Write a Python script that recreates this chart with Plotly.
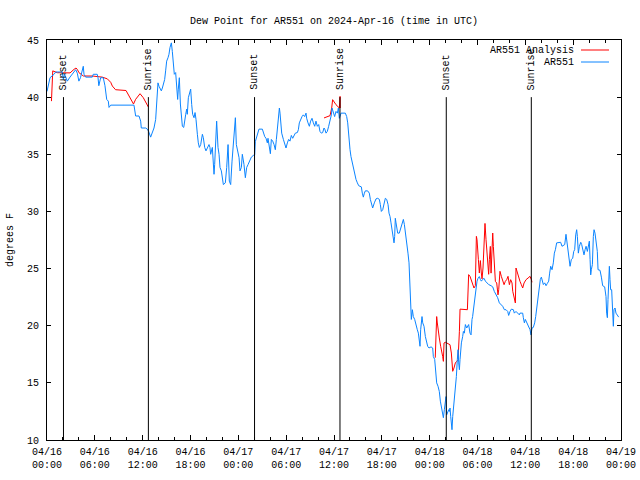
import pandas as pd
import plotly.graph_objects as go

BASE = pd.Timestamp("2024-04-16 00:00")

# AR551 observations: hours since 2024-04-16 00:00 UTC, dew point (F)
BLUE_H = [0.0, 0.38, 0.88, 1.09, 1.92, 2.05, 2.2, 2.55, 2.88, 3.18, 3.6, 3.8, 4.0, 4.2, 4.4, 4.55, 4.64, 4.85, 5.68, 5.8,
          6.3, 6.4, 6.5, 6.73, 7.06, 7.27, 7.49, 7.69, 7.78, 7.99, 10.91, 11.0, 11.12, 11.54, 11.75, 11.83, 12.38, 12.58,
          12.75, 13.0, 13.21, 13.42, 13.63, 13.76, 13.84, 13.92, 14.05, 14.17, 14.34, 14.47, 14.59, 14.76, 14.88, 15.01,
          15.18, 15.3, 15.43, 15.6, 15.72, 15.85, 15.97, 16.14, 16.26, 16.39, 16.47, 16.6, 16.73, 16.85, 16.98, 17.15,
          17.27, 17.4, 17.52, 17.6, 17.73, 17.9, 18.02, 18.15, 18.27, 18.44, 18.57, 18.69, 18.77, 18.86, 18.98, 19.11,
          19.28, 19.49, 19.61, 19.78, 19.94, 20.11, 20.32, 20.44, 20.53, 20.74, 20.87, 20.95, 21.03, 21.16, 21.28, 21.45,
          21.58, 21.7, 21.87, 22.12, 22.37, 22.54, 22.71, 22.87, 23.04, 23.21, 23.34, 23.46, 23.63, 23.75, 23.88, 24.09,
          24.21, 24.38, 24.5, 24.71, 24.88, 25.05, 25.22, 25.46, 25.63, 25.88, 26.05, 26.13, 26.3, 26.47, 26.59, 27.01,
          27.14, 27.31, 27.47, 27.64, 27.72, 27.89, 28.02, 28.14, 28.31, 28.48, 28.64, 28.77, 28.89, 29.06, 29.15, 29.23,
          29.31, 29.44, 29.65, 29.81, 29.98, 30.15, 30.31, 30.48, 30.65, 30.82, 30.98, 31.15, 31.4, 31.53, 31.65, 31.82,
          31.99, 32.15, 32.32, 32.49, 32.57, 32.74, 32.91, 33.07, 33.24, 33.41, 33.58, 33.74, 33.91, 34.08, 34.24, 34.41,
          34.58, 34.75, 34.87, 35.0, 35.16, 35.33, 35.5, 35.67, 35.75, 35.92, 36.08, 36.25, 36.42, 36.55, 36.67, 36.75,
          36.88, 37.42, 37.59, 37.72, 37.8, 37.93, 38.01, 38.13, 38.26, 38.34, 38.47, 38.59, 38.76, 38.93, 39.1, 39.26,
          39.43, 39.55, 39.68, 39.81, 39.93, 40.22, 40.43, 40.56, 40.73, 40.85, 41.06, 41.27, 41.48, 41.69, 41.81, 41.94,
          42.11, 42.23, 42.36, 42.44, 42.61, 42.78, 42.9, 43.03, 43.15, 43.28, 43.4, 43.53, 43.61, 43.69, 43.78, 43.86,
          43.99, 44.19, 44.32, 44.45, 44.57, 44.7, 44.83, 44.95, 45.08, 45.2, 45.28, 45.41, 45.49, 45.58, 45.62, 45.7,
          45.83, 45.95, 46.12, 46.29, 46.45, 46.58, 46.66, 46.79, 46.87, 46.96, 47.04, 47.13, 47.29, 47.46, 47.63, 47.75,
          47.92, 48.17, 48.38, 48.46, 48.63, 48.71, 48.8, 48.88, 49.05, 49.21, 49.34, 49.46, 49.59, 49.72, 49.84, 49.97,
          50.05, 50.13, 50.26, 50.39, 50.47, 50.55, 50.64, 50.72, 50.8, 50.89, 51.05, 51.22, 51.35, 51.47, 51.56, 51.64,
          51.73, 51.81, 51.89, 51.98, 52.14, 52.23, 52.35, 52.48, 52.65, 52.77, 52.89, 53.06, 53.19, 53.31, 53.39, 53.52,
          53.65, 53.73, 53.82, 53.94, 54.07, 54.23, 54.36, 54.48, 54.65, 54.82, 54.99, 55.15, 55.4, 55.7, 55.91, 56.11,
          56.32, 56.53, 56.74, 56.95, 57.16, 57.37, 57.58, 57.79, 57.91, 58.08, 58.25, 58.5, 58.62, 58.83, 59.04, 59.25,
          59.33, 59.67, 59.75, 59.88, 60.0, 60.17, 60.34, 60.46, 60.59, 60.71, 60.84, 61.0, 61.17, 61.3, 61.42, 61.55,
          61.67, 61.76, 61.88, 62.01, 62.13, 62.26, 62.43, 62.6, 62.76, 62.93, 63.05, 63.18, 63.35, 63.51, 63.64, 63.77,
          63.93, 64.14, 64.43, 64.6, 64.77, 64.94, 65.1, 65.23, 65.35, 65.48, 65.61, 65.77, 65.94, 66.07, 66.19, 66.32,
          66.44, 66.53, 66.65, 66.78, 66.95, 67.07, 67.2, 67.36, 67.49, 67.62, 67.78, 67.91, 68.03, 68.12, 68.2, 68.28,
          68.41, 68.53, 68.62, 68.74, 68.87, 69.03, 69.12, 69.37, 69.54, 69.7, 69.95, 70.12, 70.2, 70.29, 70.37, 70.45,
          70.54, 70.62, 70.7, 70.83, 70.96, 71.04, 71.12, 71.25, 71.37, 71.54, 71.71]
BLUE_V = [40.5, 41.7, 42.0, 42.2, 42.2, 41.55, 42.0, 41.4, 41.75, 42.05, 42.4, 42.1, 41.4, 41.7, 42.3, 42.7, 42.0, 41.75, 41.75, 42.0,
          42.0, 41.7, 41.0, 41.7, 41.7, 41.0, 39.8, 39.65, 39.1, 39.3, 39.3, 38.9, 38.35, 38.35, 37.9, 37.3, 37.3, 37.2,
          37.0, 36.5, 36.9, 37.3, 38.05, 39.4, 40.5, 41.25, 40.95, 40.8, 40.55, 40.8, 41.1, 41.55, 42.3, 43.15,
          43.45, 43.75, 44.35, 44.75, 44.0, 43.0, 42.0, 42.15, 41.1, 39.8, 40.7, 41.7, 39.4, 38.5, 37.45, 37.35,
          37.75, 38.5, 38.95, 38.5, 39.95, 40.55, 40.7, 39.35, 38.5, 38.2, 38.65, 38.05, 37.2, 36.75, 36.0, 35.6,
          35.85, 36.75, 36.45, 35.6, 35.3, 35.6, 35.85, 35.6, 35.0, 35.6, 34.4, 33.25, 34.1, 36.45, 37.9, 35.6,
          35.0, 33.85, 33.55, 32.35, 32.5, 33.85, 35.85, 32.65, 32.35, 34.4, 35.6, 36.45, 38.2, 35.85, 35.3, 34.7,
          33.55, 33.85, 35.0, 34.1, 32.95, 33.85, 34.1, 34.5, 34.75, 34.9, 34.95, 36.1, 36.55, 36.85, 37.2, 37.2,
          36.85, 36.55, 36.4, 36.0, 36.4, 35.7, 35.05, 36.3, 36.15, 35.85, 35.4, 36.3, 37.0, 38.3, 39.05, 38.6,
          37.75, 36.85, 36.3, 36.0, 35.55, 36.0, 36.3, 36.15, 36.65, 36.4, 36.7, 36.85, 36.9, 37.15, 37.75, 38.05,
          38.3, 38.45, 38.3, 38.6, 38.15, 37.75, 37.45, 37.9, 38.15, 37.75, 37.45, 37.9, 37.45, 37.6, 37.0, 36.85,
          36.9, 37.3, 37.15, 36.85, 37.0, 37.45, 37.9, 38.45, 39.05, 38.75, 38.3, 38.75, 38.6, 39.05, 38.15, 38.3,
          38.6, 38.6, 38.3, 37.75, 36.85, 36.0, 35.4, 34.8, 34.4, 33.95, 33.5, 33.15, 32.8, 32.5, 32.25, 32.2,
          32.15, 31.6, 31.25, 31.6, 31.8, 31.8, 31.6, 31.05, 30.6, 30.3, 30.75, 31.1, 31.15, 31.05, 30.6, 30.0,
          30.15, 30.6, 30.9, 31.15, 31.05, 30.6, 29.85, 29.55, 29.0, 28.25, 27.55, 27.25, 27.8, 29.4, 29.0, 28.4,
          28.1, 28.1, 28.4, 28.7, 29.0, 29.3, 28.85, 28.25, 27.65, 27.1, 26.35, 25.5, 24.05, 22.85, 21.7, 20.55,
          21.4, 20.8, 20.55, 19.95, 19.65, 19.35, 18.8, 18.2, 19.65, 20.55, 20.8, 20.25, 19.95, 19.05, 18.65, 18.2,
          18.05, 18.15, 18.05, 17.3, 17.05, 16.45, 15.85, 15.0, 14.7, 14.25, 13.4, 12.95, 12.5, 11.95, 12.65, 13.5,
          13.8, 12.2, 12.5, 12.65, 12.5, 12.8, 12.05, 11.5, 10.9, 12.05, 13.25, 14.4, 15.55, 17.05, 17.9, 16.75,
          16.15, 17.05, 17.9, 18.5, 19.05, 19.5, 19.35, 20.1, 19.8, 19.95, 20.1, 19.35, 19.2, 20.55, 20.8, 21.55,
          22.3, 23.15, 23.6, 23.9, 24.15, 24.3, 24.05, 23.9, 24.05, 24.15, 23.9, 23.75, 23.6, 23.5, 23.4, 23.0,
          22.7, 22.45, 22.0, 21.85, 21.7, 21.4, 21.4, 21.25, 20.9, 21.25, 21.45, 21.4, 21.1, 21.25, 21.1, 20.95,
          21.1, 21.1, 20.7, 20.25, 20.55, 20.25, 20.1, 19.8, 19.65, 19.2, 19.8, 19.85, 20.25, 20.8, 21.55, 22.55,
          23.15, 23.75, 24.05, 24.25, 23.75, 23.6, 23.75, 23.5, 23.7, 23.9, 24.6, 25.2, 24.9, 25.5, 26.35, 26.65,
          27.25, 27.3, 27.3, 26.95, 27.0, 27.1, 28.0, 27.25, 26.65, 25.65, 25.2, 25.8, 25.9, 26.5, 26.65, 27.95,
          28.4, 27.8, 26.35, 26.95, 27.3, 27.1, 26.8, 26.2, 26.65, 26.95, 26.5, 27.25, 27.4, 25.8, 24.45, 24.9,
          25.35, 27.8, 28.4, 28.1, 27.25, 26.5, 24.9, 24.85, 24.25, 23.5, 23.4, 22.55, 21.1, 20.7, 22.3, 24.05,
          25.2, 24.05, 23.15, 23.15, 21.7, 19.95, 21.4, 21.55, 21.1, 20.95, 20.75]

# AR551 Analysis (None = gap)
RED_H = [0.56, 0.72, 1.3, 2.89, 3.39, 3.64, 3.8, 4.01, 4.35, 4.56, 5.69, 6.94, 7.57, 7.99, 8.2, 8.6, 9.91, 10.2, 10.58,
         10.85, 11.12, 11.67, 12.08, 12.38, 12.71, None,
         34.75, 35.5, 35.71, 35.83, 36.25, 36.67, 36.76, 36.79, None,
         48.7, 48.8, 48.88, 48.96, 49.05, 49.21, 49.38, 49.55, 49.63, 49.72, 49.8, 49.97, 50.39, 50.55, 50.72, 50.8,
         50.89, 51.05, 51.22, 51.39, 51.56, 51.73, 51.81, 52.73, 52.85, 52.89, 53.06, 53.23, 53.39, 53.56, 53.73, 53.77,
         53.86, 53.94, 54.02, 54.11, 54.23, 54.36, 54.48, 54.57, 54.69, 54.77, 54.86, 54.94, 55.07, 55.15, 55.28, 55.4,
         55.49, 55.61, 55.7, 55.82, 55.91, 55.99, 56.11, 56.24, 56.41, 56.57, 56.66, 56.82, 56.99, 57.16, 57.33, 57.49,
         57.66, 57.83, 58.0, 58.16, 58.33, 58.42, 58.58, 58.75, 58.83, 59.0, 59.17, 59.33, 59.5, 59.67, 59.84, 60.09,
         60.34, 60.59, 60.76, 60.84]
RED_V = [39.65, 42.3, 42.14, 42.12, 42.43, 42.55, 42.43, 42.14, 41.96, 41.85, 41.85, 41.75, 41.6, 41.3, 40.97, 40.65, 40.58,
         40.22, 39.81, 39.4, 39.81, 40.3, 39.95, 39.51, 39.14, None,
         38.18, 38.38, 39.05, 39.78, 39.34, 39.05, 40.07, 39.05, None,
         17.2, 19.65, 20.8, 20.24, 19.65, 18.93, 18.2, 17.76, 17.32, 16.88, 18.49, 18.55, 18.43, 18.34, 17.61, 16.74,
         16.01, 16.3, 16.74, 16.88, 17.03, 19.51, 21.45, 21.4, 23.15, 24.47, 24.32, 24.03, 23.65, 23.3, 23.5, 25.49,
         27.82, 27.53, 26.94, 25.78, 24.61, 25.7, 24.61, 24.1, 25.05, 26.94, 28.75, 28.95, 27.53, 26.6, 25.2, 24.5,
         25.78, 26.94, 24.6, 27.9, 28.11, 26.94, 25.05, 23.88, 23.74, 22.7, 23.15, 24.76, 24.32, 24.03, 23.59, 23.88,
         24.03, 24.32, 23.59, 24.03, 23.74, 23.01, 22.57, 21.99, 25.05, 24.61, 24.32, 23.88, 23.59, 23.3, 23.74, 24.03,
         24.17, 24.32, 24.03, 23.8]

SUN_EVENTS = ["Sunset", "Sunrise", "Sunset", "Sunrise", "Sunset", "Sunrise"]
SUN_TIMES = ["2024-04-16 02:04", "2024-04-16 12:43", "2024-04-17 02:02", "2024-04-17 12:45",
             "2024-04-18 02:05", "2024-04-18 12:45"]

TICK_VALS = ["2024-04-16 00:00", "2024-04-16 06:00", "2024-04-16 12:00", "2024-04-16 18:00",
             "2024-04-17 00:00", "2024-04-17 06:00", "2024-04-17 12:00", "2024-04-17 18:00",
             "2024-04-18 00:00", "2024-04-18 06:00", "2024-04-18 12:00", "2024-04-18 18:00",
             "2024-04-19 00:00"]
TICK_TEXT = ["04/16<br>00:00", "04/16<br>06:00", "04/16<br>12:00", "04/16<br>18:00",
             "04/17<br>00:00", "04/17<br>06:00", "04/17<br>12:00", "04/17<br>18:00",
             "04/18<br>00:00", "04/18<br>06:00", "04/18<br>12:00", "04/18<br>18:00",
             "04/19<br>00:00"]
Y_TICKS = [10, 15, 20, 25, 30, 35, 40, 45]

TITLE = "Dew Point for AR551 on 2024-Apr-16 (time in UTC)"
Y_TITLE = "degrees F"
SERIES = ["AR551 Analysis", "AR551"]
COLORS = ["#ff0000", "#0a84ff"]

FONT = "Liberation Mono"

L, R, T, B = 47, 621, 40, 440
PW, PH = R - L, B - T


def to_time(hours):
    return [None if h is None else BASE + pd.Timedelta(hours=h) for h in hours]


fig = go.Figure()
fig.add_trace(go.Scatter(x=to_time(RED_H), y=RED_V, mode="lines", name=SERIES[0],
                         line=dict(color=COLORS[0], width=1), connectgaps=False, showlegend=False))
fig.add_trace(go.Scatter(x=to_time(BLUE_H), y=BLUE_V, mode="lines", name=SERIES[1],
                         line=dict(color=COLORS[1], width=1), showlegend=False))

minor_vals = [BASE + pd.Timedelta(hours=h) for h in range(0, 73, 2)]

fig.update_xaxes(range=["2024-04-16 00:00", "2024-04-19 00:00"], tickmode="array",
                 tickvals=TICK_VALS, ticktext=TICK_TEXT, ticks="inside", ticklen=5,
                 tickcolor="black", showline=True, linecolor="black", linewidth=1,
                 mirror="allticks", showgrid=False, zeroline=False, automargin=False,
                 ticklabelstandoff=2,
                 tickfont=dict(family=FONT, size=10, color="black"),
                 minor=dict(tickmode="array", tickvals=minor_vals, ticks="inside", ticklen=3,
                            tickcolor="black", showgrid=False))
fig.update_yaxes(range=[10, 45], tickmode="array", tickvals=Y_TICKS, ticks="inside", ticklen=4,
                 tickcolor="black", showline=True, linecolor="black", linewidth=1,
                 mirror="allticks", showgrid=False, zeroline=False, automargin=False,
                 ticklabelstandoff=5,
                 tickfont=dict(family=FONT, size=10, color="black"))

for name, t in zip(SUN_EVENTS, SUN_TIMES):
    fig.add_shape(type="line", xref="x", yref="y", x0=t, x1=t, y0=40, y1=10,
                  line=dict(color="black", width=1))
    fig.add_annotation(x=t, y=40, xref="x", yref="y", text=name, textangle=-90,
                       showarrow=False, xanchor="center", yanchor="bottom", yshift=5,
                       font=dict(family=FONT, size=10, color="black"))

# Legend (right-justified text with sample line)
for i, (name, col) in enumerate(zip(SERIES, COLORS)):
    ypx = 50 + 12 * i
    yp = (B - ypx) / PH
    fig.add_annotation(x=(576 - L) / PW, y=yp, xref="paper", yref="paper", text=name,
                       showarrow=False, xanchor="right", yanchor="middle",
                       font=dict(family=FONT, size=10, color="black"))
    fig.add_shape(type="line", xref="paper", yref="paper", x0=(581 - L) / PW, x1=(609 - L) / PW,
                  y0=yp, y1=yp, line=dict(color=col, width=1))

fig.add_annotation(x=(10 - L) / PW, y=0.5, xref="paper", yref="paper", text=Y_TITLE,
                   textangle=-90, showarrow=False, xanchor="center", yanchor="middle",
                   font=dict(family=FONT, size=10, color="black"))

fig.update_layout(
    width=640, height=480,
    margin=dict(l=L, r=640 - R, t=T, b=480 - B, autoexpand=False),
    paper_bgcolor="white", plot_bgcolor="white",
    title=dict(text=TITLE, x=0.5, xref="paper", y=1 - 20 / 480, yref="container",
               xanchor="center", yanchor="middle",
               font=dict(family=FONT, size=10, color="black")),
    showlegend=False,
)

fig.write_html("out.html")
